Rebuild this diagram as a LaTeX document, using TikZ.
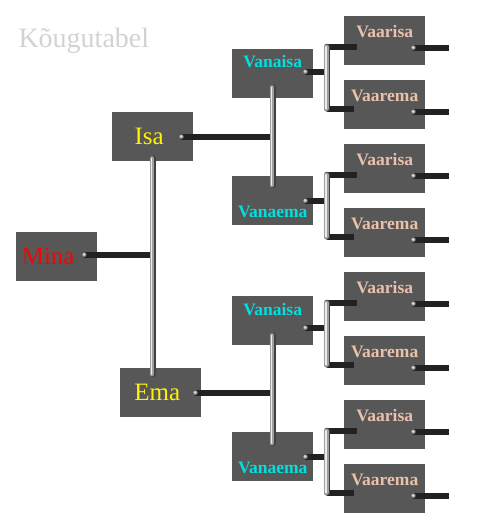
\documentclass[tikz,border=0pt]{standalone}
\usepackage{fontspec}
\setmainfont{Liberation Serif}
\usetikzlibrary{calc}
\definecolor{boxgray}{HTML}{575757}
\definecolor{bardark}{HTML}{222222}
\definecolor{peach}{HTML}{E8C2AA}
\definecolor{aqua}{HTML}{00E0E0}

\begin{document}
\begin{tikzpicture}[x=1pt, y=-1pt,
  box/.style={fill=boxgray, anchor=north west, inner sep=0pt, minimum width=81pt, minimum height=49pt},
  big/.style={box, font=\fontsize{25}{25}\selectfont, text height=32pt, text depth=17pt, execute at end node={\kern7pt}},
  mid/.style={box, font=\fontsize{17.5}{17.5}\selectfont\bfseries, text=aqua},
  old/.style={box, font=\fontsize{17.5}{17.5}\selectfont\bfseries, text=peach, text height=21pt, text depth=28pt},
  bar/.style={draw=bardark, line width=6pt},
  stick/.style={draw=black!75, line width=6pt, line cap=round,
    postaction={draw=gray!75, line width=4.5pt, line cap=round, transform canvas={xshift=-0.75pt}},
    postaction={draw=white!85!gray, line width=1.5pt, line cap=round, transform canvas={xshift=-1.25pt}}},
  knob/.style={ball color=gray!55}
]
\useasboundingbox (0,0) rectangle (481,529);
\node[anchor=base west, text=gray!35, font=\fontsize{28}{28}\selectfont] (titel) at (15,48) {Kõugutabel};

\node[big, text=red, execute at end node={\kern10pt}] (mina) at (16,232) {Mina};
\node[big, text=yellow] (isa) at (112,112) {Isa};
\node[big, text=yellow] (ema) at (120,368) {Ema};
\node[mid, text height=18pt, text depth=31pt] (vanaisa1) at (232,49) {Vanaisa};
\node[mid, text height=41pt, text depth=8pt] (vanaema1) at (232,176) {Vanaema};
\node[mid, text height=19pt, text depth=30pt] (vanaisa2) at (232,296) {Vanaisa};
\node[mid, text height=41pt, text depth=8pt] (vanaema2) at (232,432) {Vanaema};
\foreach \n/\t in {1/16,2/144,3/272,4/400} {
  \node[old] (vaarisa\n) at (344,\t) {Vaarisa};
  \node[old] (vaarema\n) at (344,\t+64) {Vaarema};
}

\coordinate (k-mina) at ($(mina.east)+(-13,-2)$);
\coordinate (k-isa) at ($(isa.east)+(-12,0)$);
\coordinate (k-ema) at ($(ema.east)+(-6,0)$);
\draw[bar] (k-mina) -- (k-mina -| isa.south);
\draw[bar] (k-isa) -- (k-isa -| vanaisa1.south);
\draw[bar] (k-ema) -- (k-ema -| vanaisa2.south);
\draw[stick] ($(isa.south)+(0,-3)$) -- ($(isa.south |- ema.north)+(0,6)$);
\draw[stick] ($(vanaisa1.south)+(0,-11)$) -- ($(vanaisa1.south |- vanaema1.north)+(0,9)$);
\draw[stick] ($(vanaisa2.south)+(0,-10)$) -- ($(vanaisa2.south |- vanaema2.north)+(0,11)$);
\foreach \k in {mina,isa,ema} \shade[knob] (k-\k) circle (2.5pt);

\foreach \n/\p/\d in {1/vanaisa1/-2, 2/vanaema1/0, 3/vanaisa2/7, 4/vanaema2/0} {
  \coordinate (top\n) at ($(vaarisa\n.west)+(-17,6)$);
  \coordinate (bot\n) at ($(vaarema\n.west)+(-17,4)$);
  \coordinate (k-\p) at ($(\p.east)+(-8,\d)$);
  \draw[bar] (top\n) -- ($(vaarisa\n.west)+(13,6)$);
  \draw[bar] (bot\n) -- ($(vaarema\n.west)+(10,4)$);
  \draw[bar] (k-\p) -- (k-\p -| top\n);
  \draw[stick] (top\n) -- (bot\n);
  \shade[knob] (k-\p) circle (2.5pt);
  \foreach \v in {vaarisa\n, vaarema\n} {
    \draw[bar] ($(\v.east)+(-12,7)$) -- ++(36,0);
    \shade[knob] ($(\v.east)+(-12,7)$) circle (2.5pt);
  }
}
\end{tikzpicture}
\end{document}
